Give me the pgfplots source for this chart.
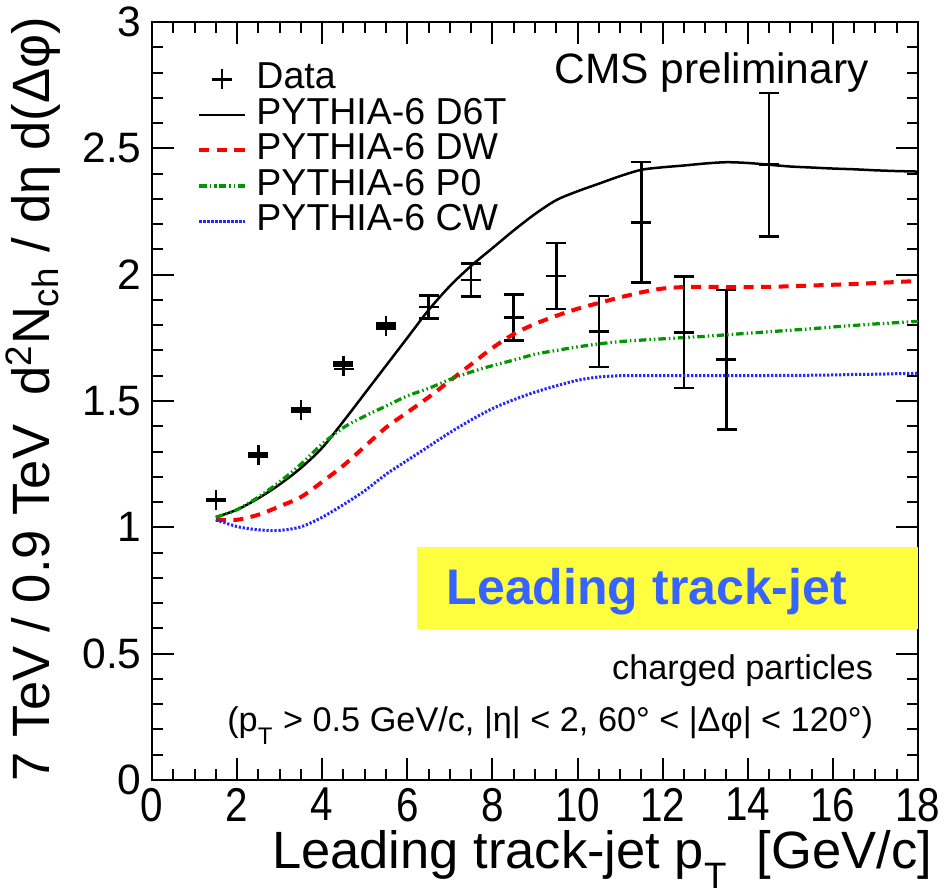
\documentclass[border=0pt]{standalone}
\usepackage{fontspec}
\setmainfont{Liberation Sans}
\newfontfamily\condfont{Liberation Sans}[FakeStretch=0.85]
\usepackage{pgfplots}
\pgfplotsset{compat=1.18}

\definecolor{dwred}{RGB}{255,0,0}
\definecolor{pzgreen}{RGB}{0,150,0}
\definecolor{cwblue}{RGB}{0,0,255}
\definecolor{boxyellow}{RGB}{255,255,64}
\definecolor{jetblue}{RGB}{55,100,255}

\newcommand{\lowsub}[1]{\raisebox{-0.22em}{\textsubscript{#1}}}

% data: ratio 7 TeV / 0.9 TeV, with statistical errors
\pgfplotstableread{
x    y      e
1.5  1.108  0.003
2.5  1.286  0.006
3.5  1.464  0.008
4.5  1.640  0.013
5.5  1.798  0.011
6.5  1.872  0.046
7.5  1.979  0.066
8.5  1.830  0.091
9.5  1.995  0.130
10.5 1.775  0.140
11.5 2.207  0.238
12.5 1.772  0.221
13.5 1.664  0.276
14.5 2.435  0.284
}\datatab

% PYTHIA-6 tunes, ratio 7 TeV / 0.9 TeV
\pgfplotstableread{
x     d6t    dw     pz     cw
1.5   1.040  1.030  1.040  1.030
2.0   1.070  1.030  1.070  1.003
2.5   1.115  1.050  1.120  0.990
3.0   1.170  1.083  1.180  0.988
3.5   1.235  1.120  1.250  1.002
4.0   1.315  1.180  1.330  1.040
4.5   1.420  1.245  1.395  1.090
5.0   1.530  1.320  1.440  1.145
5.5   1.640  1.395  1.480  1.210
6.0   1.750  1.455  1.520  1.265
6.5   1.860  1.515  1.550  1.320
7.0   1.955  1.580  1.585  1.375
7.5   2.035  1.645  1.615  1.425
8.0   2.105  1.710  1.640  1.470
8.5   2.175  1.765  1.662  1.505
9.0   2.240  1.805  1.685  1.535
9.5   2.295  1.837  1.700  1.560
10.0  2.330  1.865  1.714  1.582
10.5  2.360  1.888  1.726  1.595
11.0  2.390  1.910  1.735  1.600
11.5  2.415  1.930  1.741  1.600
12.0  2.425  1.945  1.746  1.600
12.5  2.432  1.951  1.751  1.600
13.0  2.440  1.952  1.756  1.600
13.5  2.445  1.951  1.762  1.600
14.0  2.442  1.951  1.768  1.600
14.5  2.435  1.952  1.774  1.601
15.0  2.428  1.954  1.780  1.601
15.5  2.424  1.957  1.786  1.602
16.0  2.420  1.960  1.793  1.603
16.5  2.417  1.963  1.799  1.605
17.0  2.413  1.967  1.805  1.606
17.5  2.410  1.971  1.810  1.608
18.0  2.408  1.975  1.815  1.610
}\mctab

\begin{document}
\begin{tikzpicture}
\useasboundingbox (-60.8pt,-46.4pt) rectangle (316.8pt,312pt);
\begin{axis}[
  scale only axis,
  width=306.4pt, height=303.2pt,
  xmin=0, xmax=18, ymin=0, ymax=3,
  xtick={0,2,...,18}, ytick={0,0.5,...,3},
  minor x tick num=3, minor y tick num=4,
  tick align=inside,
  major tick length=8.8pt, minor tick length=4.4pt,
  every tick/.style={black, line width=0.8pt},
  axis line style={line width=0.8pt},
  clip=false,
  /pgf/number format/assume math mode=true,
  xticklabel style={font=\condfont\fontsize{19}{19}\selectfont, inner sep=0pt, yshift=-3pt},
  yticklabel style={font=\fontsize{17}{17}\selectfont, inner sep=0pt, xshift=-4pt},
  legend image code/.code={\draw[mark repeat=2,mark phase=2,#1] plot coordinates {(0pt,0pt) (9pt,0pt) (18pt,0pt)};},
  legend cell align=left,
  legend style={at={(axis cs:1.057,2.845)}, anchor=north west, draw=none, fill=none,
    font=\fontsize{15}{15}\selectfont, inner sep=0pt, row sep=0pt, column sep=4pt,
    nodes={inner sep=0pt, text height=10.9pt, text depth=3.3pt}},
]
% highlighted label box
\fill[boxyellow] (axis cs:6.23,0.598) rectangle (axis cs:18,0.922);
\node[anchor=base west, font=\bfseries\fontsize{20}{20}\selectfont, text=jetblue] at (axis cs:6.72,0.695) {Leading track-jet};

\addplot[black, only marks, mark=+, mark size=4pt, line width=1pt,
  error bars/.cd, y dir=both, y explicit,
  error bar style={line width=1pt},
  error mark options={rotate=90, mark size=4pt, line width=1pt}]
  table[x=x, y=y, y error=e] {\datatab};
\addlegendentry{Data}

\addplot[black, line width=1pt, smooth] table[x=x, y=d6t] {\mctab};
\addlegendentry{PYTHIA-6 D6T}

\addplot[dwred, line width=1.6pt, dash pattern=on 4pt off 3pt, smooth] table[x=x, y=dw] {\mctab};
\addlegendentry{PYTHIA-6 DW}

\addplot[pzgreen, line width=1.3pt, dash pattern=on 3pt off 1.2pt on 0.6pt off 1.2pt on 0.6pt off 1.2pt, smooth] table[x=x, y=pz] {\mctab};
\addlegendentry{PYTHIA-6 P0}

\addplot[cwblue!85!white, line width=1.2pt, dash pattern=on 0.9pt off 0.7pt, smooth] table[x=x, y=cw] {\mctab};
\addlegendentry{PYTHIA-6 CW}

\node[anchor=base east, font=\fontsize{17}{17}\selectfont] at (axis cs:17.05,2.758) {CMS preliminary};
\node[anchor=base east, font=\fontsize{13.7}{13.7}\selectfont] at (axis cs:17.15,0.396) {charged particles};
\node[anchor=base east, font=\fontsize{13.7}{13.7}\selectfont] at (axis cs:17.15,0.19)
  {(p\lowsub{T} > 0.5 GeV/c, |η| < 2, 60° < |Δφ| < 120°)};

\node[anchor=base east, font=\fontsize{21}{21}\selectfont, inner sep=1pt] at (axis cs:18.40,-0.352)
  {Leading track-jet p\lowsub{T}\ \ [GeV/c]};
\node[rotate=90, anchor=base east, font=\fontsize{21}{21}\selectfont] at (axis cs:-2.397,3.055)
  {7 TeV / 0.9 TeV\ \ d\textsuperscript{2}N\textsubscript{ch} / dη d(Δφ)};
\end{axis}
\end{tikzpicture}
\end{document}
